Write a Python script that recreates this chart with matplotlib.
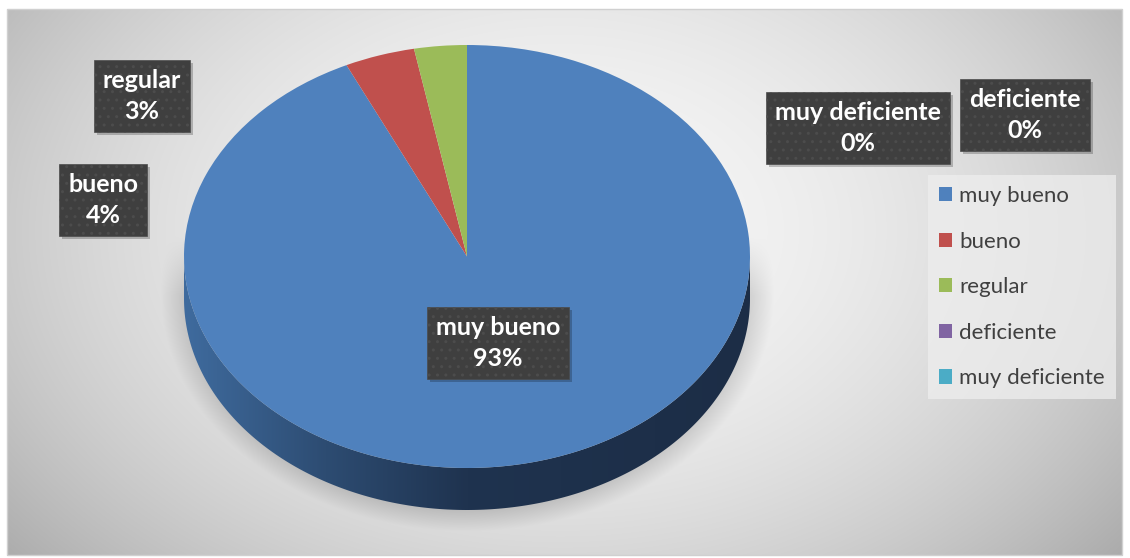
import numpy as np
import matplotlib
matplotlib.use('Agg')
import matplotlib.pyplot as plt
from matplotlib.patches import Polygon, Rectangle
from matplotlib.colors import LinearSegmentedColormap

plt.rcParams['font.family'] = ['Lato', 'DejaVu Sans']

# datos
categorias = ['muy bueno', 'bueno', 'regular', 'deficiente', 'muy deficiente']
porcentajes = [93, 4, 3, 0, 0]
colores = ['#4F81BD', '#C0504D', '#9BBB59', '#8064A2', '#4BACC6']

# posicion de las etiquetas (centro de la caja, en pixeles)
etiqueta_x = [498, 103, 142, 1025, 858]
etiqueta_y = [343, 200, 96, 115, 128]

W, H = 1130, 558
cx, cy, rx, ry, depth = 467, 256.5, 283, 211.5, 42

fig = plt.figure(figsize=(W / 100, H / 100), dpi=100)

# fondo con degradado y sombra del pastel
bg = fig.add_axes([0, 0, 1, 1])
bg.axis('off')
yy, xx = np.mgrid[0:H, 0:W]
r2 = ((xx - 560) / 600) ** 2 + ((yy - 230) / 420) ** 2
val = np.clip(0.965 - 0.2 * r2, 0, 1)
rs = np.sqrt(((xx - 467) / 298) ** 2 + ((yy - 292) / 232) ** 2)
shade = 0.13 * np.clip((1.03 - rs) / 0.09, 0, 1) * np.clip((yy - 235) / 60, 0, 1)
val = val - shade
inside = (xx >= 7) & (xx <= 1122) & (yy >= 9) & (yy <= 555)
img = np.where(inside, val, 1.0)
bg.imshow(np.dstack([img] * 3), extent=(0, W, H, 0), interpolation='bilinear', aspect='auto')
bg.add_patch(Rectangle((7, 9), 1115, 546, fill=False, ec='#d0d0d0', lw=1))
bg.set_xlim(0, W)
bg.set_ylim(H, 0)

# pastel
ax = fig.add_axes([0, 0, 1, 1])
ax.patch.set_alpha(0)
wedges, _ = ax.pie(porcentajes, colors=colores, startangle=90, counterclock=False,
                   wedgeprops=dict(linewidth=0))

# lateral del pastel
d = depth / ry
t = np.linspace(np.pi, 2 * np.pi, 300)
top = np.column_stack([np.cos(t), np.sin(t)])
bot = np.column_stack([np.cos(t[::-1]), np.sin(t[::-1]) - d])
side = Polygon(np.vstack([top, bot]), closed=True, fc='none', ec='none')
ax.add_patch(side)
cmap = LinearSegmentedColormap.from_list('lado', [(0, '#3f6b9e'), (0.25, '#2d4c72'),
                                                 (0.5, '#1f334f'), (1, '#1c2d46')])
grad = np.linspace(0, 1, 256).reshape(1, -1)
im = ax.imshow(grad, cmap=cmap, extent=(-1, 1, -1 - d, 0), aspect='auto', zorder=0.5)
im.set_clip_path(side)

ax.set_aspect('auto')
ax.set_xlim(-cx / rx, (W - cx) / rx)
ax.set_ylim((cy - H) / ry, cy / ry)
ax.axis('off')

# etiquetas
textos = []
for cat, pct, px, py in zip(categorias, porcentajes, etiqueta_x, etiqueta_y):
    txt = fig.text(px / W, 1 - py / H, f'{cat}\n{pct}%', ha='center', va='center',
                   ma='center', color='white', fontsize=18, fontweight='bold',
                   linespacing=1.45, zorder=4,
                   bbox=dict(boxstyle='square,pad=0.36', fc='#3f3f3f', ec='#4c4c4c',
                             hatch='..', lw=0.5))
    textos.append(txt)

# sombra de las cajas
fig.canvas.draw()
for txt in textos:
    bb = txt.get_bbox_patch().get_window_extent()
    fig.patches.append(Rectangle((bb.x0 + 3, bb.y0 - 3), bb.width, bb.height,
                                 transform=None, fc='black', ec='none', alpha=0.22,
                                 zorder=3, figure=fig))

# leyenda
leg = ax.legend(wedges, categorias, loc='upper left', bbox_to_anchor=(928 / W, 1 - 175 / H),
                bbox_transform=fig.transFigure, frameon=True, fontsize=16, labelspacing=1.15,
                handlelength=0.6, handleheight=0.6, handletextpad=0.3, borderpad=0.5,
                fancybox=False, borderaxespad=0, labelcolor='#404040')
leg.get_frame().set_facecolor('#eeeeee')
leg.get_frame().set_alpha(0.75)
leg.get_frame().set_edgecolor('none')

fig.savefig('out.png', dpi=100)
